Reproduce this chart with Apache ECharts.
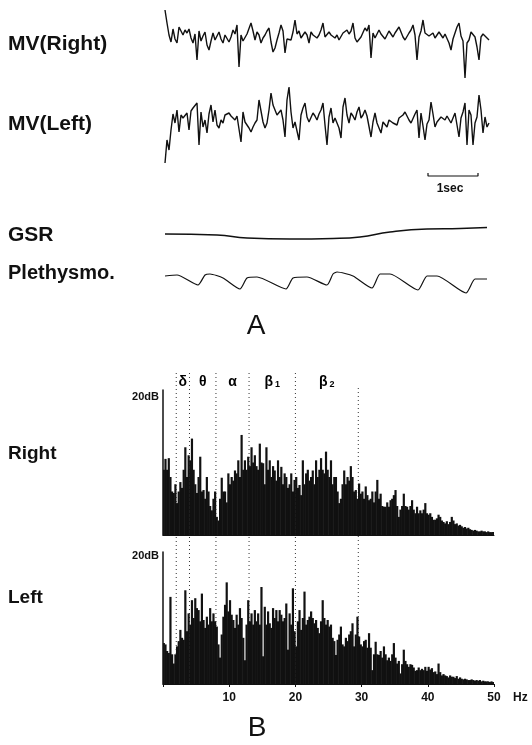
<!DOCTYPE html>
<html>
<head>
<meta charset="utf-8">
<script src="https://cdn.jsdelivr.net/npm/echarts@6.0.0/dist/echarts.min.js"></script>
<style>
html,body{margin:0;padding:0;background:#fff;}
#c{width:532px;height:745px;}
</style>
</head>
<body>
<div id="c"></div>
<script>
// ---------- DATA ----------
// Part A: time traces (sample step in seconds)
const mvStep = 0.04;
const mvRight = [27,14,2,-5,8,-2,-6,10,6,2,7,4,8,-1,-6,3,-23,6,-4,1,5,-8,-13,-4,4,-3,-5,5,-2,-6,2,4,-5,0,7,3,12,-30,2,-4,-6,3,4,14,6,-3,5,2,-6,-1,2,6,9,-5,-15,-11,-3,4,12,6,-16,-2,0,-3,5,17,3,6,-1,-2,5,2,-6,5,2,4,-1,2,7,14,0,-2,5,2,4,-1,2,-3,-1,4,2,7,3,6,14,-1,-5,-6,0,2,9,6,12,-21,4,-1,0,7,3,4,-2,-1,6,3,0,4,5,10,8,0,-3,-5,4,7,12,2,-23,0,6,17,4,6,1,3,4,-1,0,5,2,-1,3,5,-6,-13,-2,4,10,14,1,-4,-41,-6,-3,5,3,0,-10,-23,0,3,5,-1,-3];
const mvLeft = [-43,-20,-30,-10,6,-3,10,-12,5,2,4,7,-10,9,12,14,17,-25,8,-7,0,-13,6,15,-2,10,-5,-8,0,-3,5,3,7,4,3,0,4,6,-22,8,-2,-5,-8,-12,-7,-3,0,20,9,-2,-8,-3,10,27,15,13,5,3,10,0,-17,20,33,8,-8,-2,0,-20,5,12,17,3,-2,-3,7,4,0,6,10,17,-5,-25,3,12,-3,2,0,-8,-18,13,22,5,-3,7,4,0,8,13,2,5,10,4,3,-17,-2,7,-3,-5,-13,-2,0,-7,0,-2,-3,-1,-5,2,3,5,8,10,0,-3,-3,6,10,-18,7,-6,-20,-4,0,18,6,-7,-2,0,3,1,0,4,3,-3,2,7,-5,-17,2,8,17,-25,10,5,-25,-3,3,25,10,-13,3,-7,-3];
const gsrTime  = [0,1.04,1.64,2.5,3.36,3.9,4.5,5.24,5.9,6.44];
const gsrValue = [6,5,2,1,1.5,3,8,11,11.5,12.5];
const plethTime  = [0,0.24,0.66,0.8,0.9,1.16,1.5,1.64,1.84,2.42,2.56,2.84,3.24,3.36,3.44,3.76,4.14,4.3,4.5,5.06,5.24,5.44,6.02,6.2,6.44];
const plethValue = [19,20,10,20,21,17,6,17,18,6,17,18,10,21,23,19,7,21,21,5,19,19,2,16,16];
const scaleBarStart = 5.26;   // s
const scaleBarLength = 1;     // s

// Part B: power spectra, 0.25 Hz bins, 0–50 Hz, in dB
const binHz = 0.25;
const specRight = [
9,10.5,9,10.6,8,6,5.8,7,4.4,6,7.3,6.5,9,12.1,8,11,10.3,13.3,9,7,
5.8,8,10.8,6,6.2,5,8,6,4,3.4,5,6,2.5,2,5,7.9,6,6,4.5,8.5,
7,8,7.5,8.9,8.5,10.3,8,13.8,9,10.3,9,10.8,9.5,12.1,10,11,9.5,9,12.6,10,
9.9,7,12.1,9,10.3,8,9.5,8.9,7.5,10.3,8,9.4,7,8.5,8,6.5,7,8.5,6,7.6,
8,6.5,6.9,5.5,10.3,7,8.5,9,7.5,8,8.9,7,10.3,8,9,10.6,9,8.5,11.5,9,
8,10.3,7,8,8,6,4.4,5,7,8.9,7,8,7.5,9.5,8,6,6.2,5,7.1,5.7,
6,5,6.7,5.5,4.8,5,6,4.5,6,7.6,5,5.7,4,3.9,3.9,4.5,3.9,4.8,5,5.5,
6.2,4,2.5,3.5,4,5.7,4,3.9,3.5,4,4.8,3.5,3,3.9,3,3.4,3,3.5,4.4,3,
2.8,3,2.5,2.1,2.1,2.3,2.8,2.5,2,1.8,1.6,1.9,1.5,1.8,2.5,2,1.5,1.6,1.3,1.4,
1.2,1,1.1,0.9,1,0.8,0.7,0.6,0.7,0.6,0.5,0.5,0.6,0.5,0.5,0.4,0.5,0.4,0.4,0.4];
const specLeft = [
6.2,6,5,4.7,13.2,4.5,3.1,4.5,5.7,6.5,8.2,7,6.7,14.2,8,10.7,9,12.7,10,13,
11.5,11.2,9.5,13.7,9.7,8.5,10.2,9,11.5,9.5,10.7,9.5,8.7,6,4,7.5,10.2,12,15.4,11,
12.7,10.5,9.7,8.5,10.5,9,11.5,10,7,3.6,9,12.7,9.5,10.7,9,11.2,9.5,10.7,9,14.7,
4.2,11.7,9,11,9.2,8.5,11.5,10,11.2,9.5,11.2,10.5,9.5,10,12.2,5.2,10.7,9,14.5,8,
5.7,9.5,11.2,8.2,10,14,9,9.7,10.2,11,10,9.2,9.7,8.5,7.7,9.5,12.7,10,9,9.7,
8.7,9,7,6.5,4.4,6.7,7.5,8.7,6,5.7,7,6.5,7.5,8,9.2,5.7,7.5,10.2,7.2,6,
5.7,6.5,6.7,5.5,7.7,5.5,2.1,4.5,6.4,4.5,4.4,5,4,5.7,4.5,3.6,4,3.5,4.5,6.2,
4,3.1,3.5,1.6,3,5.2,3.5,3,2.6,3,2.9,2.5,2,2.1,2.5,2.1,2.3,2.1,2.6,2,
2.6,2.2,2.4,1.8,1.9,1.5,3.1,1.8,1.3,1.5,1.3,1.2,1,1.3,1.1,1.1,0.9,1.2,0.8,1,
0.8,0.7,0.8,0.7,0.6,0.6,0.7,0.6,0.5,0.6,0.5,0.6,0.4,0.5,0.4,0.4,0.4,0.3,0.4,0.3];
const freqTicks = [10,20,30,40,50];
const bandEdges = [2,4,8,13,20,29.5];
const bandNames = ['δ','θ','α','β','β'];
const bandSubs  = ['','','','1','2'];

// ---------- CHART ----------
const FONT = '"Liberation Sans", Arial, sans-serif';
const INK = '#111';
const chart = echarts.init(document.getElementById('c'), null, {renderer:'canvas'});

const freqBins = specRight.map((_, i) => (i * binHz).toFixed(2));
const hx = (g, min, max) => ({type:'value', gridIndex:g, min:min, max:max, show:false});
const hy = (g, min, max) => ({type:'value', gridIndex:g, min:min, max:max, show:false});

const traceX = {left:165, width:325};
const grids = [
  Object.assign({top:8,   height:74}, traceX),   // 0 MV right
  Object.assign({top:75,  height:90}, traceX),   // 1 MV left
  Object.assign({top:220, height:20}, traceX),   // 2 GSR
  Object.assign({top:265, height:30}, traceX),   // 3 Plethysmo
  Object.assign({top:170, height:10}, traceX),   // 4 scale bar
  {left:163, width:331, top:390, height:145},    // 5 spectrum right
  {left:163, width:331, top:552, height:132},    // 6 spectrum left
  {left:163, width:331, top:373, height:311}     // 7 band overlay
];

const specY = g => ({type:'value', gridIndex:g, min:0, max:20,
  axisLine:{show:true, lineStyle:{color:INK, width:1.5}},
  axisTick:{show:false}, axisLabel:{show:false}, splitLine:{show:false}});

const xAxes = [
  hx(0,0,6.5), hx(1,0,6.5), hx(2,0,6.5), hx(3,0,6.5), hx(4,0,6.5),
  {type:'category', gridIndex:5, data:freqBins, boundaryGap:true,
   axisLine:{show:true, lineStyle:{color:INK, width:1}}, axisTick:{show:false}, axisLabel:{show:false}},
  {type:'category', gridIndex:6, data:freqBins, boundaryGap:true, show:false},
  {type:'value', gridIndex:6, min:0, max:50, interval:10, position:'bottom',
   axisLine:{show:true, onZero:false, lineStyle:{color:INK, width:1}},
   axisTick:{show:true, length:3, lineStyle:{color:INK}},
   splitLine:{show:false},
   axisLabel:{color:INK, fontFamily:FONT, fontWeight:'bold', fontSize:12, margin:8,
     formatter: v => freqTicks.indexOf(v) >= 0 ? String(v) : ''}},
  hx(7,0,50)
];
const yAxes = [
  hy(0,-45,29), hy(1,-45,45), hy(2,0,20), hy(3,0,30), hy(4,0,10),
  specY(5), specY(6), hy(7,0,311)
];

const lineBase = {type:'line', symbol:'none', silent:true, animation:false};
const series = [
  Object.assign({}, lineBase, {xAxisIndex:0, yAxisIndex:0, lineStyle:{color:INK, width:1.4},
    data: mvRight.map((v,i) => [i*mvStep, v])}),
  Object.assign({}, lineBase, {xAxisIndex:1, yAxisIndex:1, lineStyle:{color:INK, width:1.4},
    data: mvLeft.map((v,i) => [i*mvStep, v])}),
  Object.assign({}, lineBase, {xAxisIndex:2, yAxisIndex:2, smooth:true, lineStyle:{color:INK, width:1.5},
    data: gsrTime.map((t,i) => [t, gsrValue[i]])}),
  Object.assign({}, lineBase, {xAxisIndex:3, yAxisIndex:3, smooth:0.2, lineStyle:{color:INK, width:1.2},
    data: plethTime.map((t,i) => [t, plethValue[i]])}),
  Object.assign({}, lineBase, {xAxisIndex:4, yAxisIndex:4, lineStyle:{color:INK, width:1.2},
    data: [[scaleBarStart,7],[scaleBarStart,4],[scaleBarStart+scaleBarLength,4],[scaleBarStart+scaleBarLength,7]]}),
  {type:'bar', xAxisIndex:5, yAxisIndex:5, data:specRight, barWidth:2.2, z:3,
   itemStyle:{color:INK}, silent:true, animation:false},
  {type:'bar', xAxisIndex:6, yAxisIndex:6, data:specLeft, barWidth:2.2, z:3,
   itemStyle:{color:INK}, silent:true, animation:false}
];
bandEdges.forEach(e => {
  const top = e >= 29 ? 296 : 311;
  series.push(Object.assign({}, lineBase, {xAxisIndex:8, yAxisIndex:7, z:1,
    lineStyle:{color:'#333', width:1, type:[1,3]}, data:[[e, top],[e, 0]]}));
});
const bandCenters = bandNames.map((n,i) => [(bandEdges[i]+bandEdges[i+1])/2, 302, i]);
series.push({type:'scatter', xAxisIndex:8, yAxisIndex:7, symbolSize:1, silent:true, z:5,
  itemStyle:{color:'rgba(0,0,0,0)'},
  data: bandCenters,
  label:{show:true, position:'inside', color:'#000', opacity:1,
    formatter: p => { const i = p.data[2]; return '{g|' + bandNames[i] + '}' + (bandSubs[i] ? '{s|' + bandSubs[i] + '}' : ''); },
    rich:{ g:{fontFamily:FONT, fontWeight:'bold', fontSize:14, color:'#000'},
           s:{fontFamily:FONT, fontWeight:'bold', fontSize:9, color:'#000', padding:[6,0,0,2]} }}});

const txt = (text, x, y, size, weight, align) => ({type:'text', x:x, y:y, silent:true,
  style:{text:text, fill:INK, font: weight + ' ' + size + 'px ' + FONT,
         textAlign: align || 'left', textVerticalAlign:'middle', align: align || 'left', verticalAlign:'middle'}});

const option = {
  animation:false,
  backgroundColor:'#fff',
  grid: grids,
  xAxis: xAxes,
  yAxis: yAxes,
  series: series,
  graphic: [
    txt('MV(Right)', 8, 44, 21, 'bold'),
    txt('MV(Left)', 8, 124, 21, 'bold'),
    txt('GSR', 8, 235, 21, 'bold'),
    txt('Plethysmo.', 8, 273, 20, 'bold'),
    txt('1sec', 450, 189, 12, 'bold', 'center'),
    txt('A', 256, 326, 28, 'normal', 'center'),
    txt('Right', 8, 454, 19, 'bold'),
    txt('Left', 8, 598, 19, 'bold'),
    txt('20dB', 159, 397, 11, 'bold', 'right'),
    txt('20dB', 159, 556, 11, 'bold', 'right'),
    txt('Hz', 513, 698, 12, 'bold', 'left'),
    txt('B', 257, 728, 28, 'normal', 'center')
  ]
};
chart.setOption(option);
</script>
</body>
</html>
